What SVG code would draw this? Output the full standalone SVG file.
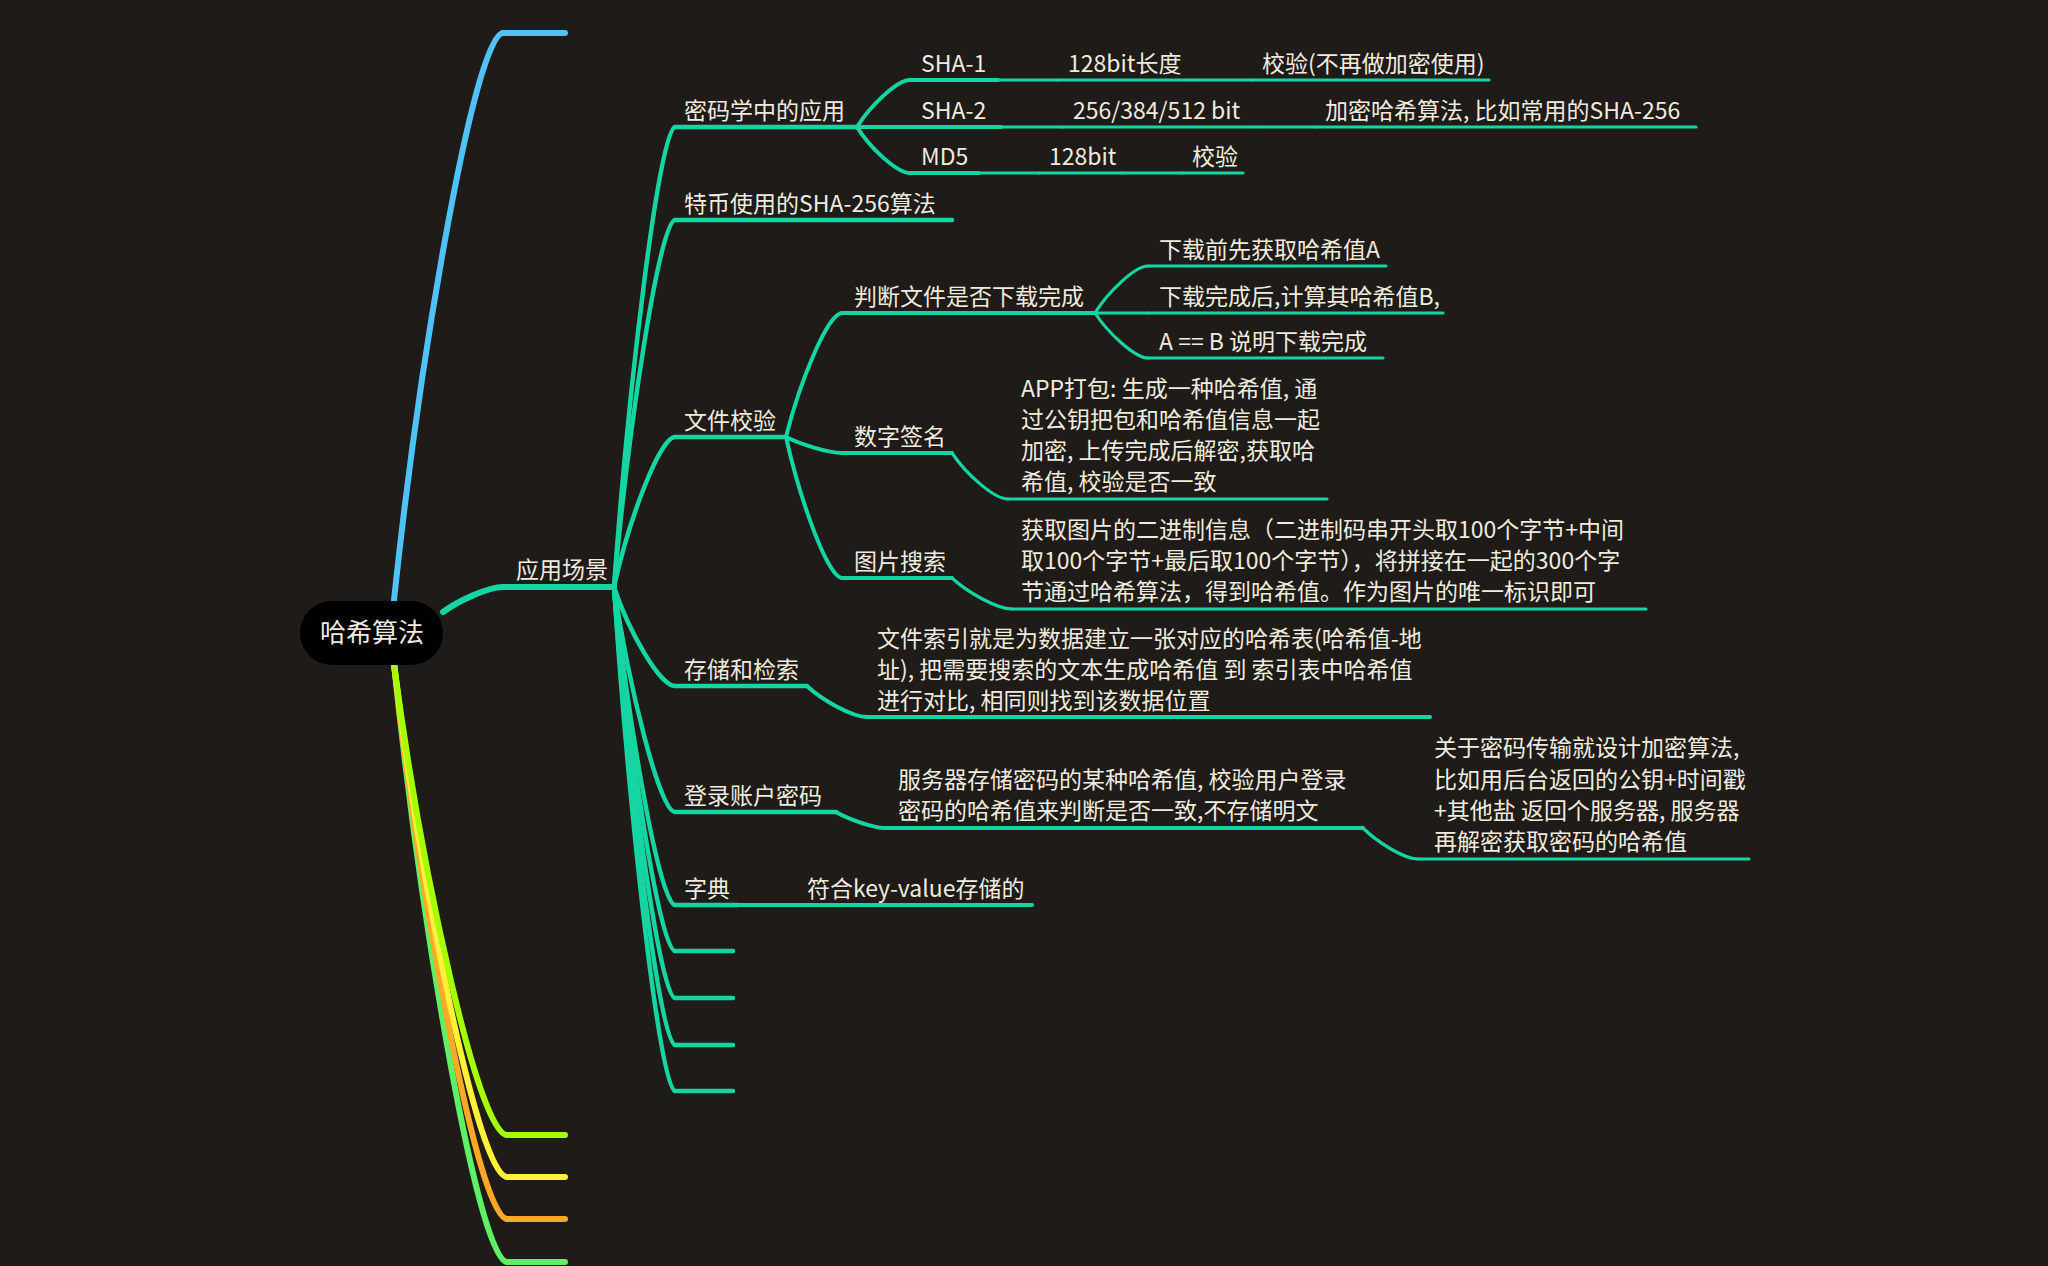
<svg xmlns="http://www.w3.org/2000/svg" width="2048" height="1266" viewBox="0 0 2048 1266">
<style>
.t{font-family:"Noto Sans CJK SC","Noto Sans",sans-serif;font-size:23px;fill:#f0ebde}
.root{font-size:26px;text-anchor:middle}
.c{fill:none;stroke-linecap:round;stroke-linejoin:round}
.g{stroke:#15d6a3}
.w1{stroke-width:6}
.w2{stroke-width:4.5}
.w3{stroke-width:4}
.w4{stroke-width:3.2}
.u{fill:none;stroke:#15d6a3;stroke-linecap:round}
</style>
<rect width="2048" height="1266" fill="#1e1b18"/>

<g id="connectors">
  <path class="c w1" stroke="#4fc3f7" d="M394,600 C421,345 476,33 503,33"/>
  <path class="c w1" stroke="#5ef065" d="M394,664 C422,933 479,1262 507,1262"/>
  <path class="c w1" stroke="#ffa826" d="M394,664 C422,914 479,1219 507,1219"/>
  <path class="c w1" stroke="#fff03a" d="M394,664 C422,895 479,1177 507,1177"/>
  <path class="c w1" stroke="#a6ff00" d="M394,664 C422,876 479,1135 507,1135"/>
  <path class="c g w1" d="M443,612 C458,601 488,587 503,587"/>

  <path class="c g w2" d="M614,587 C629,380 660,127 675,127"/>
  <path class="c g w2" d="M614,587 C629,422 660,220 675,220"/>
  <path class="c g w2" d="M614,587 C629,519 660,437 675,437"/>
  <path class="c g w2" d="M614,587 C629,632 660,686 675,686"/>
  <path class="c g w2" d="M614,587 C629,688 660,812 675,812"/>
  <path class="c g w2" d="M614,587 C629,730 660,905 675,905"/>
  <path class="c g w2" d="M614,587 C629,751 660,951 675,951"/>
  <path class="c g w2" d="M614,587 C629,772 660,998 675,998"/>
  <path class="c g w2" d="M614,587 C629,793 660,1045 675,1045"/>
  <path class="c g w2" d="M614,587 C629,814 660,1091 675,1091"/>

  <path class="c g w3" d="M857,127 C870,106 897,80 910,80"/>
  <path class="c g w3" d="M857,127 L910,127"/>
  <path class="c g w3" d="M857,127 C870,148 897,173 910,173"/>
  <path class="c g w4" d="M998,80 L1057,80"/>
  <path class="c g w4" d="M1192,80 L1252,80"/>
  <path class="c g w4" d="M1001,127 L1062,127"/>
  <path class="c g w4" d="M1256,127 L1315,127"/>
  <path class="c g w4" d="M979,173 L1039,173"/>
  <path class="c g w4" d="M1122,173 L1182,173"/>

  <path class="c g w3" d="M786,437 C800,381 828,313 842,313"/>
  <path class="c g w3" d="M786,437 C800,444 828,453 842,453"/>
  <path class="c g w3" d="M786,437 C800,500 828,578 842,578"/>
  <path class="c g w4" d="M1095,313 C1108,292 1135,266 1148,266"/>
  <path class="c g w4" d="M1095,313 L1148,313"/>
  <path class="c g w4" d="M1095,313 C1108,333 1135,358 1148,358"/>
  <path class="c g w4" d="M952,453 C966,474 994,499 1008,499"/>
  <path class="c g w4" d="M952,578 C967,592 997,609 1012,609"/>

  <path class="c g w3" d="M807,686 C822,700 852,717 867,717"/>
  <path class="c g w3" d="M836,812 C848,819 873,828 885,828"/>
  <path class="c g w4" d="M1363,828 C1377,842 1404,859 1418,859"/>
  <path class="c g w3" d="M738,905 L796,905"/>
</g>

<g id="root">
  <rect x="300" y="601" width="143" height="64" rx="32" fill="#000"/>
  <text class="t root" x="372" y="642">哈希算法</text>
</g>

<g id="b-blue"><path class="c w1" stroke="#4fc3f7" d="M503,33 H565"/></g>
<g id="b-lime"><path class="c w1" stroke="#a6ff00" d="M507,1135 H565"/></g>
<g id="b-yellow"><path class="c w1" stroke="#fff03a" d="M507,1177 H565"/></g>
<g id="b-orange"><path class="c w1" stroke="#ffa826" d="M507,1219 H565"/></g>
<g id="b-green"><path class="c w1" stroke="#5ef065" d="M507,1262 H565"/></g>

<g id="n-yycj">
  <path class="u w1" d="M503,587 H614"/>
  <text class="t" x="516" y="578">应用场景</text>
</g>

<g id="n-mmx">
  <path class="u w2" d="M675,127 H857"/>
  <text class="t" x="684" y="119">密码学中的应用</text>
</g>
<g id="n-sha1"><path class="u w3" d="M910,80 H998"/><text class="t" x="921" y="72">SHA-1</text></g>
<g id="n-sha1-len"><path class="u w4" d="M1057,80 H1192"/><text class="t" x="1068" y="72">128bit长度</text></g>
<g id="n-sha1-use"><path class="u w4" d="M1252,80 H1489"/><text class="t" x="1262" y="72">校验(不再做加密使用)</text></g>
<g id="n-sha2"><path class="u w3" d="M910,127 H1001"/><text class="t" x="921" y="119">SHA-2</text></g>
<g id="n-sha2-len"><path class="u w4" d="M1062,127 H1256"/><text class="t" x="1073" y="119">256/384/512 bit</text></g>
<g id="n-sha2-use"><path class="u w4" d="M1315,127 H1696"/><text class="t" x="1325" y="119">加密哈希算法, 比如常用的SHA-256</text></g>
<g id="n-md5"><path class="u w3" d="M910,173 H979"/><text class="t" x="921" y="165">MD5</text></g>
<g id="n-md5-len"><path class="u w4" d="M1039,173 H1122"/><text class="t" x="1049" y="165">128bit</text></g>
<g id="n-md5-use"><path class="u w4" d="M1182,173 H1243"/><text class="t" x="1192" y="165">校验</text></g>

<g id="n-btc">
  <path class="u w2" d="M675,220 H952"/>
  <text class="t" x="684" y="212">特币使用的SHA-256算法</text>
</g>

<g id="n-wjjy">
  <path class="u w2" d="M675,437 H786"/>
  <text class="t" x="684" y="429">文件校验</text>
</g>
<g id="n-pd"><path class="u w3" d="M842,313 H1095"/><text class="t" x="854" y="305">判断文件是否下载完成</text></g>
<g id="n-pd1"><path class="u w4" d="M1148,266 H1386"/><text class="t" x="1159" y="258">下载前先获取哈希值A</text></g>
<g id="n-pd2"><path class="u w4" d="M1148,313 H1443"/><text class="t" x="1159" y="305">下载完成后,计算其哈希值B,</text></g>
<g id="n-pd3"><path class="u w4" d="M1148,358 H1383"/><text class="t" x="1159" y="350">A == B 说明下载完成</text></g>
<g id="n-szqm"><path class="u w3" d="M842,453 H952"/><text class="t" x="854" y="445">数字签名</text></g>
<g id="n-szqm1">
  <path class="u w4" d="M1008,499 H1327"/>
  <text class="t" x="1021" y="397">APP打包: 生成一种哈希值, 通</text>
  <text class="t" x="1021" y="428">过公钥把包和哈希值信息一起</text>
  <text class="t" x="1021" y="459">加密, 上传完成后解密,获取哈</text>
  <text class="t" x="1021" y="490">希值, 校验是否一致</text>
</g>
<g id="n-tpss"><path class="u w3" d="M842,578 H952"/><text class="t" x="854" y="570">图片搜索</text></g>
<g id="n-tpss1">
  <path class="u w4" d="M1012,609 H1646"/>
  <text class="t" x="1021" y="538">获取图片的二进制信息（二进制码串开头取100个字节+中间</text>
  <text class="t" x="1021" y="569">取100个字节+最后取100个字节），将拼接在一起的300个字</text>
  <text class="t" x="1021" y="600">节通过哈希算法，得到哈希值。作为图片的唯一标识即可</text>
</g>

<g id="n-cc">
  <path class="u w2" d="M675,686 H807"/>
  <text class="t" x="684" y="678">存储和检索</text>
</g>
<g id="n-cc1">
  <path class="u w3" d="M867,717 H1430"/>
  <text class="t" x="877" y="647">文件索引就是为数据建立一张对应的哈希表(哈希值-地</text>
  <text class="t" x="877" y="678">址), 把需要搜索的文本生成哈希值 到 索引表中哈希值</text>
  <text class="t" x="877" y="709">进行对比, 相同则找到该数据位置</text>
</g>

<g id="n-dl">
  <path class="u w2" d="M675,812 H836"/>
  <text class="t" x="684" y="804">登录账户密码</text>
</g>
<g id="n-dl1">
  <path class="u w3" d="M885,828 H1363"/>
  <text class="t" x="898" y="788">服务器存储密码的某种哈希值, 校验用户登录</text>
  <text class="t" x="898" y="819">密码的哈希值来判断是否一致,不存储明文</text>
</g>
<g id="n-dl2">
  <path class="u w4" d="M1418,859 H1749"/>
  <text class="t" x="1434" y="756">关于密码传输就设计加密算法,</text>
  <text class="t" x="1434" y="788">比如用后台返回的公钥+时间戳</text>
  <text class="t" x="1434" y="819">+其他盐 返回个服务器, 服务器</text>
  <text class="t" x="1434" y="850">再解密获取密码的哈希值</text>
</g>

<g id="n-zd">
  <path class="u w2" d="M675,905 H738"/>
  <text class="t" x="684" y="897">字典</text>
</g>
<g id="n-zd1"><path class="u w3" d="M796,905 H1032"/><text class="t" x="807" y="897">符合key-value存储的</text></g>

<g id="n-e1"><path class="u w2" d="M675,951 H733"/></g>
<g id="n-e2"><path class="u w2" d="M675,998 H733"/></g>
<g id="n-e3"><path class="u w2" d="M675,1045 H733"/></g>
<g id="n-e4"><path class="u w2" d="M675,1091 H733"/></g>
</svg>
